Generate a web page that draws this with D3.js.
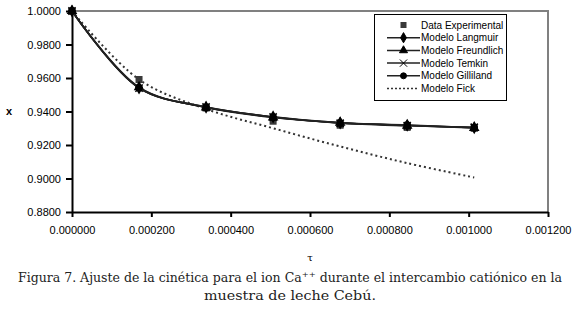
<!DOCTYPE html>
<html>
<head>
<meta charset="utf-8">
<script src="https://cdn.jsdelivr.net/npm/d3@7"></script>
<style>
  body { margin: 0; background: #fff; }
  svg { display: block; }
</style>
</head>
<body>
<div id="chart"></div>
<script>
// data
let tau = [0, 0.000169, 0.000338, 0.000507, 0.000676, 0.000845, 0.001014];
let experimental = [1.0000, 0.9591, 0.9421, 0.9342, 0.9318, 0.9305, 0.9300];
let langmuir   = [1.0000, 0.9541, 0.9426, 0.9368, 0.9332, 0.9318, 0.9304];
let freundlich = [1.0000, 0.9545, 0.9424, 0.9364, 0.9334, 0.9316, 0.9302];
let temkin     = [1.0000, 0.9540, 0.9427, 0.9367, 0.9330, 0.9315, 0.9306];
let gilliland  = [1.0000, 0.9542, 0.9425, 0.9366, 0.9331, 0.9319, 0.9303];
let fick       = [1.0000, 0.9591, 0.9415, 0.9300, 0.9191, 0.9092, 0.9006];

let legendNames = ["Data Experimental", "Modelo Langmuir", "Modelo Freundlich",
                   "Modelo Temkin", "Modelo Gilliland", "Modelo Fick"];
let xTicks = [0, 0.0002, 0.0004, 0.0006, 0.0008, 0.001, 0.0012];
let yTicks = [0.88, 0.90, 0.92, 0.94, 0.96, 0.98, 1.00];

let svgW = 576, svgH = 312;
let plotL = 72, plotR = 548, plotT = 11, plotB = 212;

let svg = d3.select("#chart").append("svg")
  .attr("width", svgW)
  .attr("height", svgH);

let xScale = d3.scaleLinear().domain([0, 0.0012]).range([plotL, plotR]);
let yScale = d3.scaleLinear().domain([0.88, 1.0]).range([plotB, plotT]);

// gray frame on top and right
svg.append("path")
  .attr("d", `M ${plotL} ${plotT} H ${plotR} V ${plotB}`)
  .attr("fill", "none")
  .attr("stroke", "#808080")
  .attr("stroke-width", 2);

// axes
let yAxis = svg.append("g")
  .attr("transform", `translate(${plotL},0)`)
  .call(d3.axisLeft(yScale).tickValues(yTicks).tickFormat(d3.format(".4f")).tickSize(6).tickSizeOuter(0));
let xAxis = svg.append("g")
  .attr("transform", `translate(0,${plotB})`)
  .call(d3.axisBottom(xScale).tickValues(xTicks).tickFormat(d3.format(".6f")).tickSize(5).tickSizeOuter(0));

[yAxis, xAxis].forEach(function(ax) {
  ax.select(".domain").attr("stroke", "#000").attr("stroke-width", 2);
  ax.selectAll(".tick line").attr("stroke", "#000").attr("stroke-width", 2);
  ax.selectAll("text")
    .attr("font-family", "Liberation Sans, Arial, sans-serif")
    .attr("font-size", 11)
    .attr("fill", "#000");
});
yAxis.selectAll("text").attr("x", -11);
xAxis.selectAll("text").attr("y", 14);

// axis titles
svg.append("text")
  .attr("x", 9).attr("y", 115)
  .attr("text-anchor", "middle")
  .attr("font-family", "Liberation Sans, Arial, sans-serif")
  .attr("font-size", 11)
  .attr("font-weight", "bold")
  .text("x");
svg.append("text")
  .attr("x", 310).attr("y", 261)
  .attr("text-anchor", "middle")
  .attr("font-family", "DejaVu Serif, serif")
  .attr("font-size", 10)
  .text("τ");

let line = d3.line()
  .x(function(d, i) { return xScale(tau[i]); })
  .y(function(d) { return yScale(d); })
  .curve(d3.curveCatmullRom.alpha(0.5));

// Fick model dotted
svg.append("path")
  .attr("d", line(fick))
  .attr("fill", "none")
  .attr("stroke", "#333")
  .attr("stroke-width", 2)
  .attr("stroke-dasharray", "2,3");

// experimental squares
svg.append("g").selectAll("rect")
  .data(experimental)
  .enter()
  .append("rect")
  .attr("x", function(d, i) { return xScale(tau[i]) - 3.5; })
  .attr("y", function(d) { return yScale(d) - 3.5; })
  .attr("width", 7).attr("height", 7)
  .attr("fill", "#3a3a3a");

let models = [
  { values: langmuir,   symbol: d3.symbolDiamond,  size: 30 },
  { values: freundlich, symbol: d3.symbolTriangle, size: 28 },
  { values: temkin,     symbol: d3.symbolTimes,    size: 36 },
  { values: gilliland,  symbol: d3.symbolCircle,   size: 28 }
];

models.forEach(function(m) {
  svg.append("path")
    .attr("d", line(m.values))
    .attr("fill", "none")
    .attr("stroke", "#222")
    .attr("stroke-width", 1.6);
  svg.append("g").selectAll("path")
    .data(m.values)
    .enter()
    .append("path")
    .attr("transform", function(d, i) { return `translate(${xScale(tau[i])},${yScale(d)})`; })
    .attr("d", d3.symbol().type(m.symbol).size(m.size))
    .attr("fill", "#000")
    .attr("stroke", "#000")
    .attr("stroke-width", 1.5);
});

// legend
let legend = svg.append("g");
legend.append("rect")
  .attr("x", 374.5).attr("y", 14.5)
  .attr("width", 132).attr("height", 86)
  .attr("fill", "#fff")
  .attr("stroke", "#000")
  .attr("stroke-width", 1);

let legendY = d3.scalePoint().domain(legendNames).range([25, 88.5]);
let lx0 = 387, lx1 = 420;

legendNames.forEach(function(name, i) {
  let y = legendY(name);
  let g = legend.append("g");
  if (i === 0) {
    g.append("rect")
      .attr("x", (lx0 + lx1) / 2 - 3).attr("y", y - 3)
      .attr("width", 6).attr("height", 6)
      .attr("fill", "#3a3a3a");
  } else if (i === 5) {
    g.append("line")
      .attr("x1", lx0).attr("x2", lx1 - 2).attr("y1", y).attr("y2", y)
      .attr("stroke", "#333").attr("stroke-width", 1.5)
      .attr("stroke-dasharray", "2,2");
  } else {
    let m = models[i - 1];
    g.append("line")
      .attr("x1", lx0).attr("x2", lx1).attr("y1", y).attr("y2", y)
      .attr("stroke", "#222").attr("stroke-width", 1.5);
    g.append("path")
      .attr("transform", `translate(${(lx0 + lx1) / 2},${y})`)
      .attr("d", d3.symbol().type(m.symbol).size(m.size))
      .attr("fill", "#000")
      .attr("stroke", "#000")
      .attr("stroke-width", 1);
  }
  g.append("text")
    .attr("x", lx1 + 1).attr("y", y + 3.5)
    .attr("font-family", "Liberation Sans, Arial, sans-serif")
    .attr("font-size", 10)
    .text(name);
});

// caption
let caption = svg.append("text")
  .attr("x", 290).attr("y", 282)
  .attr("text-anchor", "middle")
  .attr("font-family", "DejaVu Serif, serif")
  .attr("font-size", 12)
  .attr("fill", "#222")
  .attr("textLength", 544)
  .attr("lengthAdjust", "spacingAndGlyphs");
caption.append("tspan").text("Figura 7. Ajuste de la cinética para el ion Ca");
caption.append("tspan").attr("dy", -5).attr("font-size", 8).text("++");
caption.append("tspan").attr("dy", 5).text(" durante el intercambio catiónico en la");

svg.append("text")
  .attr("x", 290).attr("y", 300)
  .attr("text-anchor", "middle")
  .attr("font-family", "DejaVu Serif, serif")
  .attr("font-size", 12)
  .attr("fill", "#222")
  .attr("textLength", 172)
  .attr("lengthAdjust", "spacingAndGlyphs")
  .text("muestra  de leche Cebú.");
</script>
</body>
</html>
